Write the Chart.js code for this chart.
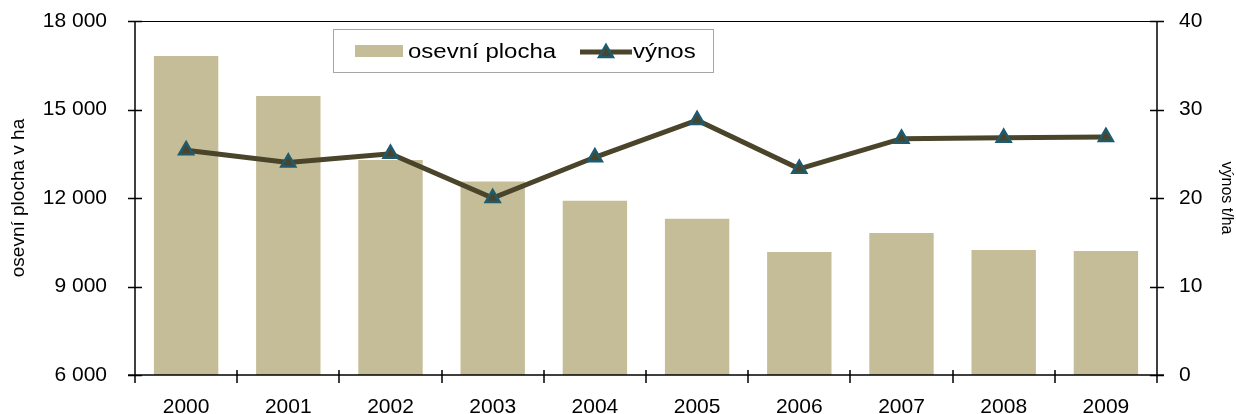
<!DOCTYPE html>
<html>
<head>
<meta charset="utf-8">
<script src="https://cdn.jsdelivr.net/npm/chart.js@4"></script>
<style>
html,body{margin:0;padding:0;background:#fff;}
#wrap{width:1236px;height:414px;}
</style>
</head>
<body>
<div id="wrap"><canvas id="c" width="1236" height="414"></canvas></div>
<script>
const categories = ['2000','2001','2002','2003','2004','2005','2006','2007','2008','2009'];
const plochaValues = [16810, 15460, 13290, 12560, 11910, 11300, 10170, 10810, 10240, 10200];
const vynosValues = [25.4, 24.0, 25.0, 20.0, 24.6, 28.8, 23.3, 26.7, 26.8, 26.9];
const leftTicks = [6000, 9000, 12000, 15000, 18000];
const rightTicks = [0, 10, 20, 30, 40];
const seriesNames = ['osevní plocha', 'výnos'];
const axisTitles = ['osevní plocha v ha', 'výnos t/ha'];

const FONT = "'Liberation Sans', Arial, sans-serif";
const barColor = '#c4bd97';
const lineColor = '#4a452a';
const markerBorder = '#1f5a6e';

function fmt(v){ return String(v).replace(/\B(?=(\d{3})+(?!\d))/g, ' '); }

const axesPlugin = {
  id: 'axesPlugin',
  afterDraw(chart){
    const ctx = chart.ctx;
    const a = chart.chartArea;
    const x = chart.scales.x, y = chart.scales.y, y1 = chart.scales.y1;
    ctx.save();
    ctx.strokeStyle = '#000';
    ctx.lineWidth = 1;
    ctx.beginPath();
    ctx.moveTo(a.left - 7, a.top + 0.5); ctx.lineTo(a.right + 7, a.top + 0.5);
    ctx.stroke();
    ctx.lineWidth = 1.5;
    ctx.beginPath();
    ctx.moveTo(a.left, a.top); ctx.lineTo(a.left, a.bottom + 6);
    leftTicks.forEach(v => { const py = Math.round(y.getPixelForValue(v)) + 0.5; ctx.moveTo(a.left - 7, py); ctx.lineTo(a.left + 7, py); });
    ctx.moveTo(a.right, a.top); ctx.lineTo(a.right, a.bottom + 6);
    rightTicks.forEach(v => { const py = Math.round(y1.getPixelForValue(v)) + 0.5; ctx.moveTo(a.right - 7, py); ctx.lineTo(a.right + 7, py); });
    ctx.moveTo(a.left - 7, a.bottom); ctx.lineTo(a.right + 7, a.bottom);
    const n = categories.length;
    const step = x.getPixelForValue(1) - x.getPixelForValue(0);
    for (let i = 0; i <= n; i++) {
      let px = (i < n) ? x.getPixelForValue(i) - step / 2 : x.getPixelForValue(n - 1) + step / 2;
      px = Math.round(px);
      ctx.moveTo(px, a.bottom - 5); ctx.lineTo(px, a.bottom + 8);
    }
    ctx.stroke();

    // legend
    ctx.lineWidth = 1;
    ctx.strokeStyle = '#a6a6a6';
    ctx.fillStyle = '#fff';
    ctx.fillRect(333, 29, 380, 43);
    ctx.strokeRect(333.5, 29.5, 380, 43);
    ctx.fillStyle = barColor;
    ctx.fillRect(355, 45, 48, 12);
    ctx.fillStyle = '#000';
    ctx.font = '20px ' + FONT;
    ctx.textBaseline = 'alphabetic';
    ctx.textAlign = 'left';
    ctx.save(); ctx.translate(408, 58); ctx.scale(1.2, 1); ctx.fillText(seriesNames[0], 0, 0); ctx.restore();
    ctx.strokeStyle = lineColor;
    ctx.lineWidth = 5;
    ctx.beginPath(); ctx.moveTo(580, 52); ctx.lineTo(632, 52); ctx.stroke();
    ctx.fillStyle = lineColor; ctx.strokeStyle = markerBorder; ctx.lineWidth = 2.5;
    ctx.beginPath();
    const r = 8, cx = 606, cy = 53;
    ctx.moveTo(cx, cy - r);
    ctx.lineTo(cx + Math.sin(2*Math.PI/3)*r, cy - Math.cos(2*Math.PI/3)*r);
    ctx.lineTo(cx + Math.sin(4*Math.PI/3)*r, cy - Math.cos(4*Math.PI/3)*r);
    ctx.closePath(); ctx.fill(); ctx.stroke();
    ctx.fillStyle = '#000';
    ctx.save(); ctx.translate(633, 58); ctx.scale(1.2, 1); ctx.fillText(seriesNames[1], 0, 0); ctx.restore();
    ctx.restore();
  }
};

function zeroPad(s){ s.paddingTop = 0; s.paddingBottom = 0; s.paddingLeft = 0; s.paddingRight = 0; }

new Chart(document.getElementById('c'), {
  type: 'bar',
  data: {
    labels: categories,
    datasets: [
      {
        type: 'line', label: seriesNames[1], data: vynosValues, yAxisID: 'y1', order: 0,
        borderColor: lineColor, borderWidth: 5, backgroundColor: lineColor,
        pointStyle: 'triangle', pointRadius: 8, pointBorderWidth: 2.5,
        pointBackgroundColor: lineColor, pointBorderColor: markerBorder,
        tension: 0, fill: false
      },
      {
        type: 'bar', label: seriesNames[0], data: plochaValues, yAxisID: 'y', order: 1,
        backgroundColor: barColor, borderWidth: 0,
        barPercentage: 0.63, categoryPercentage: 1.0
      }
    ]
  },
  options: {
    responsive: false,
    animation: false,
    devicePixelRatio: 1,
    layout: { padding: { top: 21, left: 0, right: 0, bottom: 0 } },
    plugins: { legend: { display: false }, tooltip: { enabled: false }, title: { display: false } },
    scales: {
      x: {
        grid: { display: false, drawTicks: false },
        border: { display: false },
        ticks: { color: '#000', font: { family: FONT, size: 21 }, padding: 20, maxRotation: 0, autoSkip: false },
        afterFit(s){ s.height = 39; zeroPad(s); }
      },
      y: {
        position: 'left', min: 6000, max: 18000,
        grid: { display: false, drawTicks: false },
        border: { display: false },
        afterBuildTicks(s){ s.ticks = leftTicks.map(v => ({ value: v })); },
        ticks: { color: '#000', font: { family: FONT, size: 21 }, padding: 28, callback: v => fmt(v) },
        title: { display: true, text: axisTitles[0], color: '#000', font: { family: FONT, size: 19 }, padding: { top: 7, bottom: 0 } },
        afterFit(s){ s.width = 135; zeroPad(s); }
      },
      y1: {
        position: 'right', min: 0, max: 40,
        grid: { display: false, drawTicks: false },
        border: { display: false },
        afterBuildTicks(s){ s.ticks = rightTicks.map(v => ({ value: v })); },
        ticks: { color: '#000', font: { family: FONT, size: 21 }, padding: 22 },
        title: { display: true, text: axisTitles[1], color: '#000', font: { family: FONT, size: 16 }, padding: { top: 0, bottom: 0 } },
        afterFit(s){ s.width = 79; zeroPad(s); }
      }
    }
  },
  plugins: [axesPlugin]
});
</script>
</body>
</html>
